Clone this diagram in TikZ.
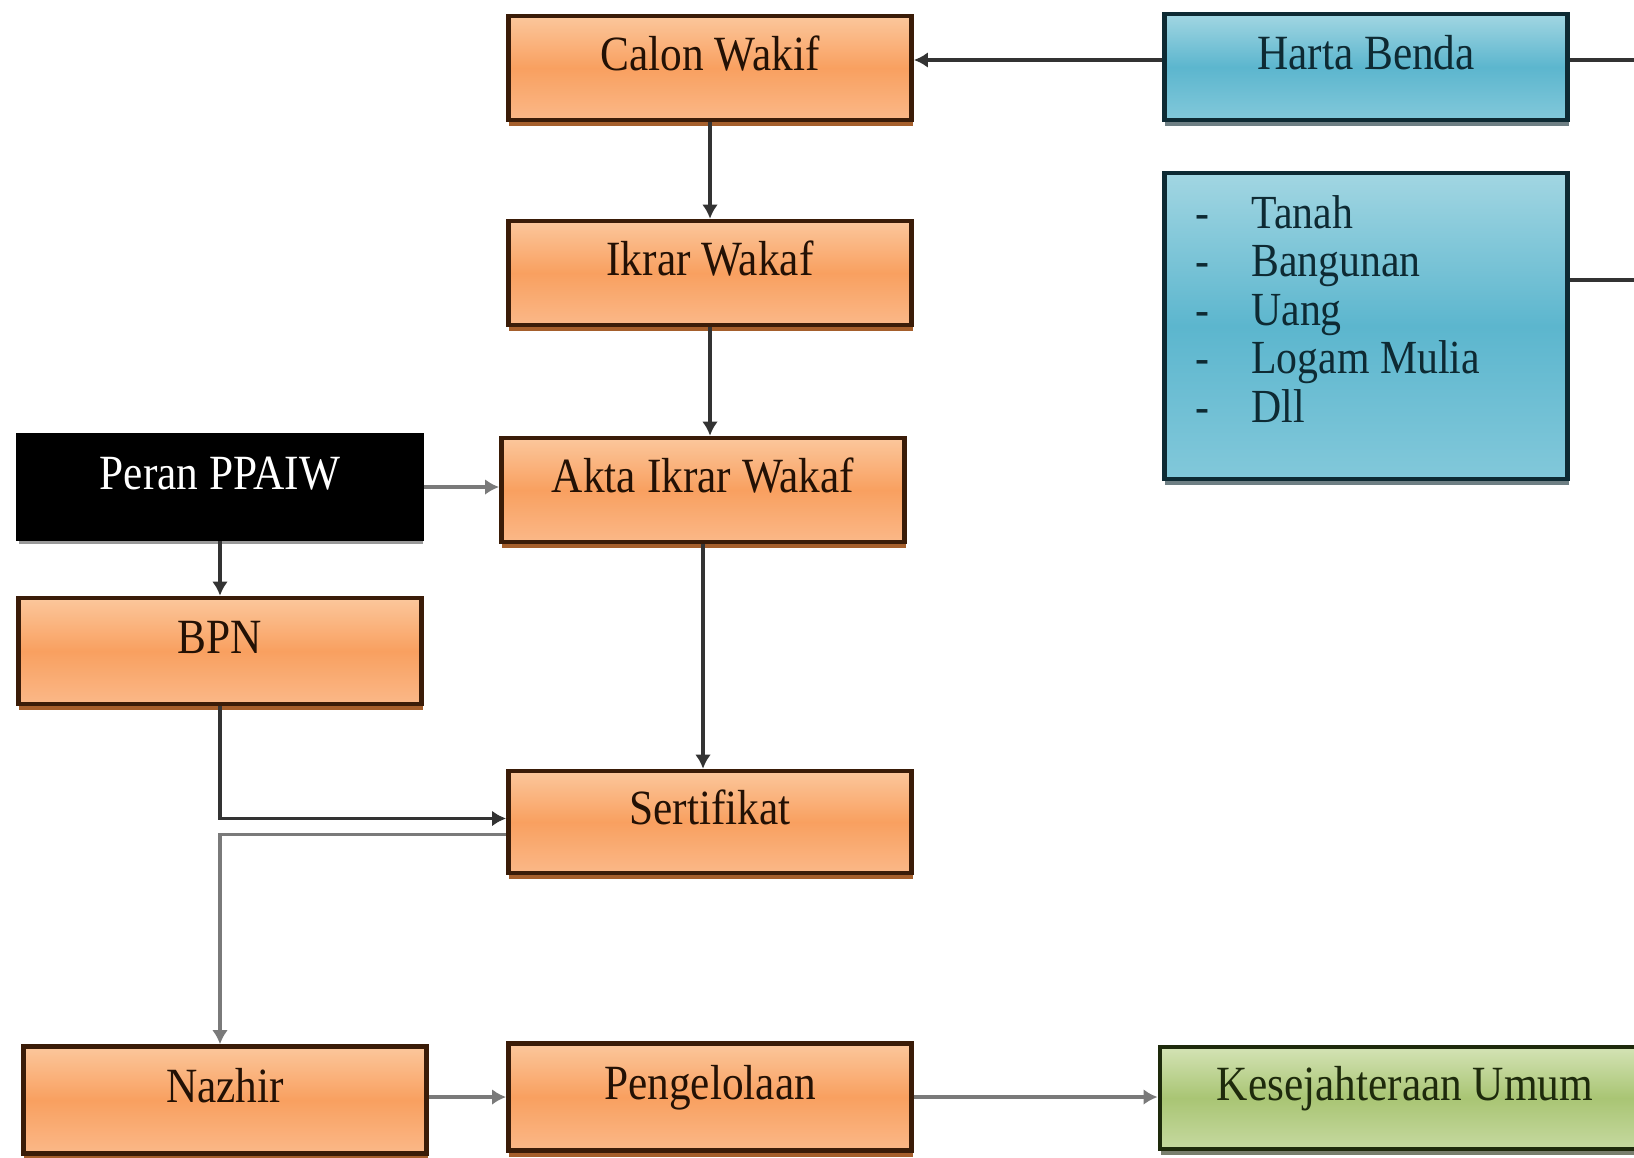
\documentclass[tikz,border=0pt]{standalone}
\usepackage{fontspec}
\setmainfont[FakeStretch=0.88]{Liberation Serif}
\usetikzlibrary{arrows.meta,shadows}

\definecolor{orangetop}{HTML}{FBC79C}
\definecolor{orangemid}{HTML}{F9A060}
\definecolor{orangebot}{HTML}{FAB888}
\definecolor{orangeline}{HTML}{3A1C08}
\definecolor{orangeshade}{HTML}{9C4E16}
\definecolor{bluetop}{HTML}{A2D6E2}
\definecolor{bluemid}{HTML}{5CB6CE}
\definecolor{bluebot}{HTML}{82C8DA}
\definecolor{blueline}{HTML}{0E2A33}
\definecolor{greentop}{HTML}{D4E3B5}
\definecolor{greenmid}{HTML}{A9C574}
\definecolor{greenbot}{HTML}{C6D9A0}
\definecolor{greenline}{HTML}{1E2A0C}
\definecolor{connector}{HTML}{333333}
\definecolor{connlight}{HTML}{7A7A7A}

\begin{document}
\begin{tikzpicture}[
      x=0.01cm, y=-0.01cm,
      box/.style={draw, line width=1.3pt, minimum width=4.03cm, minimum height=1.04cm,
                  font=\fontsize{14}{16}\selectfont, align=center,
                  text height=0.36cm, text depth=0.32cm},
      orangebox/.style={box, draw=orangeline, text=orangeline!60!black,
                        top color=orangetop, bottom color=orangebot, middle color=orangemid,
                        drop shadow={shadow xshift=0.3pt, shadow yshift=-1.8pt, fill=orangeshade, opacity=0.9}},
      bluebox/.style={box, draw=blueline, text=blueline,
                      top color=bluetop, bottom color=bluebot, middle color=bluemid,
                      drop shadow={shadow xshift=0.3pt, shadow yshift=-1.6pt, fill=blueline, opacity=0.6}},
      greenbox/.style={box, draw=greenline, text=greenline,
                       top color=greentop, bottom color=greenbot, middle color=greenmid,
                       drop shadow={shadow xshift=0.3pt, shadow yshift=-1.6pt, fill=greenline, opacity=0.6}},
      blackbox/.style={box, draw=black, fill=black, text=white,
                       drop shadow={shadow xshift=0.3pt, shadow yshift=-1.6pt, fill=black, opacity=0.4}},
      conn/.style={draw=connector, line width=0.9pt},
      arr/.style={conn, -{Latex[length=4pt,width=4.5pt]}}
    ]
      \clip (0,0) rectangle (1634,1157);
      \fill[white] (0,0) rectangle (1634,1157);

      % main column
      \node[orangebox] (calon) at (710,68) {Calon Wakif};
      \node[orangebox] (ikrar) at (710,273) {Ikrar Wakaf};
      \node[orangebox] (akta) at (703,490) {Akta Ikrar Wakaf};
      \node[orangebox, minimum height=1.02cm] (sertifikat) at (710,822) {Sertifikat};
      \node[orangebox, minimum height=1.07cm] (pengelolaan) at (710,1097) {Pengelolaan};

      % left column
      \node[blackbox, minimum height=1.03cm] (peran) at (220,487) {Peran PPAIW};
      \node[orangebox, minimum height=1.06cm] (bpn) at (220,651) {BPN};
      \node[orangebox, minimum height=1.07cm] (nazhir) at (225,1100) {Nazhir};

      % right column
      \node[bluebox, minimum height=1.06cm] (harta) at (1366,67) {Harta Benda};
      \node[bluebox, minimum height=3.06cm] (jenis) at (1366,326) {};
      \node[anchor=north west, align=left, text=blueline,
            font=\fontsize{13.5}{13.8}\selectfont] (jenislist) at (1183,182)
        {\begin{tabular}{@{}l@{\hspace{0.42cm}}l@{}}
           - & Tanah\\
           - & Bangunan\\
           - & Uang\\
           - & Logam Mulia\\
           - & Dll
         \end{tabular}};
      \node[greenbox, minimum width=4.9cm, minimum height=1.02cm] (umum) at (1405,1098) {Kesejahteraan Umum};

      \coordinate (edgeA) at (1640,60);
      \coordinate (edgeB) at (1640,280);

      % connectors
      \draw[conn] (harta.east |- edgeA) -- (edgeA);
      \draw[conn] (jenis.east |- edgeB) -- (edgeB);
      \draw[arr] (harta.west |- edgeA) -- (calon.east |- edgeA);
      \draw[arr] (calon.south) -- (ikrar.north);
      \draw[arr] (ikrar.south) -- (ikrar.south |- akta.north);
      \draw[arr, draw=connlight] (peran.east) -- (peran.east -| akta.west);
      \draw[arr] (peran.south) -- (bpn.north);
      \draw[arr] (akta.south) -- (akta.south |- sertifikat.north);
      \draw[arr] (bpn.south) |- ([yshift=1pt]sertifikat.west);
      \draw[arr, draw=connlight] ([yshift=-3.6pt]sertifikat.west) -| (bpn.south |- nazhir.north);
      \draw[arr, draw=connlight] (nazhir.east |- pengelolaan.east) -- (pengelolaan.west);
      \draw[arr, draw=connlight] (pengelolaan.east) -- (pengelolaan.east -| umum.west);
    \end{tikzpicture}
\end{document}
